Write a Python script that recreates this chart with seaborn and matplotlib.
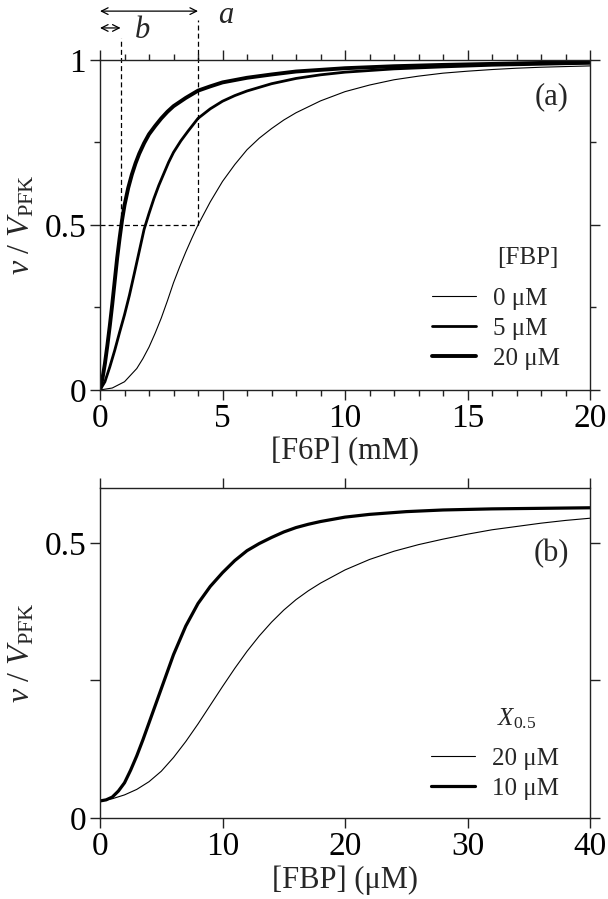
import matplotlib
matplotlib.use("Agg")
import matplotlib.pyplot as plt
import seaborn as sns
from matplotlib.lines import Line2D
from matplotlib.ticker import MultipleLocator, FixedLocator

# ---------------- data ----------------
# panel (a): v/VPFK vs [F6P] (mM) for three [FBP]
f6p_0 = [0, 0.5, 1.0, 1.25, 1.5, 1.75, 2.0, 2.25, 2.5, 2.75, 3.0, 3.25, 3.5, 3.75,
         4.0, 4.5, 5.0, 5.5, 6.0, 6.5, 7.0, 7.5, 8.0, 9.0, 10.0, 11.0, 12.0, 13.0,
         14.0, 15.0, 16.0, 17.0, 18.0, 19.0, 20.0]
v_fbp0 = [0, 0.006, 0.025, 0.045, 0.065, 0.095, 0.13, 0.172, 0.218, 0.27, 0.325,
          0.373, 0.418, 0.46, 0.5, 0.57, 0.632, 0.683, 0.728, 0.763, 0.792, 0.818,
          0.84, 0.876, 0.904, 0.924, 0.94, 0.951, 0.96, 0.966, 0.971, 0.975,
          0.978, 0.98, 0.982]

f6p_5 = [0, 0.2, 0.4, 0.6, 0.8, 1.0, 1.2, 1.4, 1.6, 1.8, 2.0, 2.2, 2.4, 2.6, 2.8,
         3.0, 3.3, 3.6, 4.0, 4.5, 5.0, 5.5, 6.0, 7.0, 8.0, 9.0, 10.0, 12.0, 14.0,
         16.0, 18.0, 20.0]
v_fbp5 = [0, 0.025, 0.07, 0.12, 0.175, 0.228, 0.287, 0.353, 0.42, 0.487, 0.535,
          0.58, 0.62, 0.655, 0.69, 0.72, 0.755, 0.785, 0.823, 0.852, 0.875, 0.892,
          0.906, 0.928, 0.944, 0.955, 0.963, 0.973, 0.979, 0.984, 0.987, 0.99]

f6p_20 = [0, 0.1, 0.2, 0.3, 0.4, 0.5, 0.6, 0.7, 0.8, 0.9, 1.0, 1.15, 1.3, 1.45, 1.6,
          1.8, 2.0, 2.25, 2.5, 2.75, 3.0, 3.5, 4.0, 4.5, 5.0, 6.0, 7.0, 8.0, 9.0,
          10.0, 12.0, 14.0, 16.0, 18.0, 20.0]
v_fbp20 = [0, 0.035, 0.08, 0.135, 0.195, 0.26, 0.33, 0.40, 0.46, 0.515, 0.56, 0.612,
           0.653, 0.687, 0.716, 0.748, 0.775, 0.80, 0.823, 0.843, 0.86, 0.885,
           0.907, 0.92, 0.932, 0.946, 0.956, 0.965, 0.97, 0.975, 0.981, 0.985,
           0.988, 0.991, 0.993]

fbp_title = "[FBP]"
fbp_labels = ["0 \u03bcM", "5 \u03bcM", "20 \u03bcM"]

# panel (b): v/VPFK vs [FBP] (uM) for two X0.5
fbp_20 = [0, 1, 2, 3, 4, 5, 6, 7, 8, 9, 10, 11, 12, 13, 14, 15, 16, 17, 18, 20, 22,
          24, 26, 28, 30, 32, 34, 36, 38, 40]
v_x20 = [0.031, 0.035, 0.042, 0.052, 0.066, 0.085, 0.11, 0.139, 0.171, 0.205,
         0.239, 0.272, 0.303, 0.331, 0.356, 0.378, 0.397, 0.413, 0.427, 0.451,
         0.47, 0.485, 0.497, 0.507, 0.516, 0.524, 0.53, 0.536, 0.541, 0.545]
fbp_10 = [0, 0.5, 1, 1.5, 2, 2.5, 3, 3.5, 4, 5, 6, 7, 8, 9, 10, 11, 12, 13, 14, 15,
          16, 17, 18, 20, 22, 25, 28, 32, 36, 40]
v_x10 = [0.031, 0.033, 0.038, 0.049, 0.064, 0.087, 0.113, 0.142, 0.173, 0.235,
         0.297, 0.349, 0.39, 0.421, 0.446, 0.468, 0.486, 0.499, 0.51, 0.52, 0.528,
         0.534, 0.539, 0.547, 0.552, 0.557, 0.56, 0.562, 0.563, 0.564]
x05_title = r"$X_{0.5}$"
x05_labels = ["20 \u03bcM", "10 \u03bcM"]

a_val = 4.0    # half-saturation, 0 uM FBP
b_val = 0.84   # half-saturation, 20 uM FBP

# ---------------- style ----------------
sns.set_theme(style="ticks")
plt.rcParams["font.family"] = ["Liberation Serif", "DejaVu Serif"]
plt.rcParams["mathtext.fontset"] = "custom"
plt.rcParams["mathtext.rm"] = "Liberation Serif"
plt.rcParams["mathtext.it"] = "Liberation Serif:italic"

fig = plt.figure(figsize=(6.08, 8.99), dpi=100)
ax1 = fig.add_axes([0.1645, 0.5662, 0.8059, 0.3671])
ax2 = fig.add_axes([0.1645, 0.0901, 0.8059, 0.3671])

tick_fs = 24
lab_fs = 22
leg_fs = 18

def style_axes(ax):
    for s in ax.spines.values():
        s.set_visible(True)
        s.set_color("#222222")
        s.set_linewidth(1.0)
    ax.tick_params(which="both", direction="out", top=True, right=True,
                   colors="#222222", labelsize=tick_fs, labelcolor="black")
    ax.tick_params(which="major", length=7, width=1.0, pad=3)
    ax.tick_params(which="minor", length=4.5, width=1.0)

# ---------------- panel (a) ----------------
lw_a = [0.8, 2.0, 2.8]
sns.lineplot(x=f6p_0, y=v_fbp0, ax=ax1, color="black", linewidth=lw_a[0])
sns.lineplot(x=f6p_5, y=v_fbp5, ax=ax1, color="black", linewidth=lw_a[1])
sns.lineplot(x=f6p_20, y=v_fbp20, ax=ax1, color="black", linewidth=lw_a[2])
ax1.set_xlim(0, 20)
ax1.set_ylim(0, 1)
style_axes(ax1)
ax1.xaxis.set_major_locator(MultipleLocator(5))
ax1.xaxis.set_minor_locator(MultipleLocator(1))
ax1.yaxis.set_major_locator(FixedLocator([0, 0.5, 1]))
ax1.yaxis.set_minor_locator(FixedLocator([0.25, 0.75]))
ax1.set_yticklabels(["0", "0.5", "1"])
ax1.set_xlabel("[F6P] (mM)", fontsize=lab_fs, labelpad=2)
ax1.set_ylabel(r"$v\ /\ V_{\mathrm{PFK}}$", fontsize=lab_fs + 1, labelpad=6)

# dashed guides
dash = dict(color="black", linewidth=0.9, linestyle=(0, (4, 2.5)), clip_on=False)
ax1.plot([0, a_val], [0.5, 0.5], **dash)
ax1.plot([a_val, a_val], [0.5, 1.12], **dash)
ax1.plot([b_val, b_val], [0.5, 1.067], **dash)
arr = dict(arrowstyle="<->", color="black", lw=0.9, shrinkA=0, shrinkB=0,
           mutation_scale=12)
ax1.annotate("", xy=(0, 1.148), xytext=(a_val, 1.148), xycoords="data",
             textcoords="data", arrowprops=arr, annotation_clip=False)
ax1.annotate("", xy=(0, 1.097), xytext=(b_val, 1.097), xycoords="data",
             textcoords="data", arrowprops=arr, annotation_clip=False)
ax1.text(4.8, 1.178, "a", fontsize=22, style="italic", ha="left", va="top",
         clip_on=False)
ax1.text(1.43, 1.067, "b", fontsize=22, style="italic", ha="left",
         va="baseline", clip_on=False)
ax1.text(0.957, 0.888, "(a)", transform=ax1.transAxes, fontsize=22,
         ha="right", va="center")

handles_a = [Line2D([], [], color="black", linewidth=w) for w in lw_a]
ax1.legend(handles_a, fbp_labels, frameon=False, fontsize=leg_fs,
           loc="upper left", bbox_to_anchor=(0.678, 0.31), handlelength=1.75,
           handletextpad=0.7, labelspacing=0.3, borderaxespad=0, borderpad=0)
ax1.text(0.81, 0.382, fbp_title, transform=ax1.transAxes, fontsize=leg_fs,
         ha="left", va="baseline")

# ---------------- panel (b) ----------------
lw_b = [0.8, 2.3]
sns.lineplot(x=fbp_20, y=v_x20, ax=ax2, color="black", linewidth=lw_b[0])
sns.lineplot(x=fbp_10, y=v_x10, ax=ax2, color="black", linewidth=lw_b[1])
ax2.set_xlim(0, 40)
ax2.set_ylim(0, 0.6)
style_axes(ax2)
ax2.xaxis.set_major_locator(MultipleLocator(10))
ax2.yaxis.set_major_locator(FixedLocator([0, 0.5]))
ax2.yaxis.set_minor_locator(FixedLocator([0.25]))
ax2.set_yticklabels(["0", "0.5"])
ax2.tick_params(which="minor", length=7)
ax2.set_xlabel("[FBP] (\u03bcM)", fontsize=lab_fs, labelpad=2)
ax2.set_ylabel(r"$v\ /\ V_{\mathrm{PFK}}$", fontsize=lab_fs + 1, labelpad=6)
ax2.text(0.957, 0.80, "(b)", transform=ax2.transAxes, fontsize=22,
         ha="right", va="center")

handles_b = [Line2D([], [], color="black", linewidth=w) for w in lw_b]
ax2.legend(handles_b, x05_labels, frameon=False, fontsize=leg_fs,
           loc="upper left", bbox_to_anchor=(0.676, 0.213), handlelength=1.75,
           handletextpad=0.7, labelspacing=0.3, borderaxespad=0, borderpad=0)
ax2.text(0.81, 0.282, x05_title, transform=ax2.transAxes, fontsize=leg_fs,
         ha="left", va="baseline")

fig.savefig("out.png", dpi=100)
